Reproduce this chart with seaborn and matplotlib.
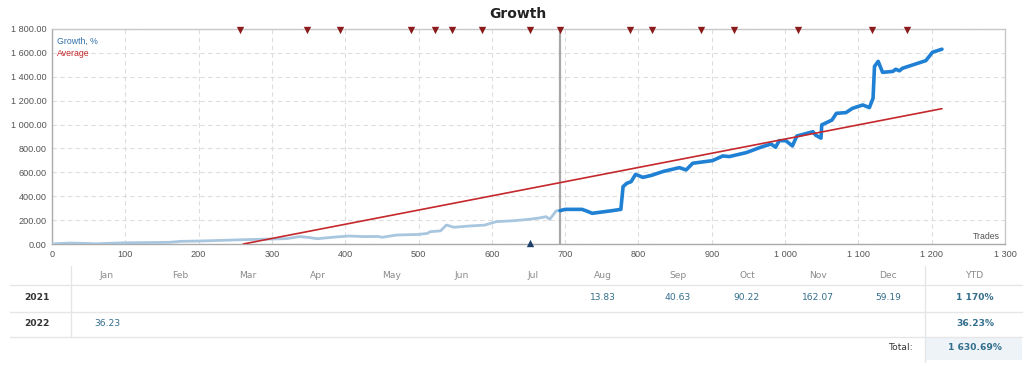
import matplotlib
matplotlib.use("Agg")
import matplotlib.pyplot as plt
from matplotlib.ticker import FuncFormatter, MultipleLocator
from matplotlib.lines import Line2D
from matplotlib.patches import Rectangle
import seaborn as sns
import pandas as pd

# ---------------- data ----------------
trades_light = [0, 10, 25, 45, 60, 80, 100, 130, 160, 175, 200, 230, 260, 290, 320, 338, 350, 362, 380, 405,
                425, 445, 450, 470, 500, 512, 516, 530, 538, 548, 570, 590, 606, 630, 651, 665, 674, 679, 688, 693]
growth_light = [0, 4, 8, 5, 2, 6, 10, 12, 14, 22, 25, 30, 36, 40, 45, 62, 55, 44, 55, 67,
                62, 63, 56, 75, 80, 89, 103, 110, 159, 140, 151, 158, 187, 195, 207, 218, 229, 207, 279, 279]

trades_dark = [693, 700, 723, 728, 737, 764, 776, 779, 784, 790, 796, 806, 818, 833, 852, 856, 865, 874, 901, 915,
               924, 947, 969, 981, 987, 992, 1001, 1010, 1016, 1038, 1042, 1049, 1050, 1064, 1070, 1083, 1092,
               1106, 1115, 1120, 1122, 1127, 1133, 1147, 1151, 1156, 1160, 1174, 1192, 1201, 1214]
growth_dark = [279, 290, 290, 279, 257, 279, 290, 480, 508, 522, 583, 558, 575, 606, 634, 639, 620, 676, 698, 737,
               732, 765, 815, 837, 810, 865, 865, 821, 904, 940, 910, 886, 997, 1038, 1094, 1100, 1136,
               1164, 1142, 1220, 1487, 1529, 1437, 1445, 1463, 1450, 1471, 1499, 1535, 1605, 1631]

average_trades = [261, 1214]
average_values = [0, 1133]

year_split_trade = 693
deposit_trades = [256, 348, 393, 490, 522, 545, 586, 652, 693, 788, 818, 885, 930, 1017, 1118, 1166]
withdraw_trades = [652]

months = ["Jan", "Feb", "Mar", "Apr", "May", "Jun", "Jul", "Aug", "Sep", "Oct", "Nov", "Dec"]
years = ["2021", "2022"]
monthly_2021 = [None, None, None, None, None, None, None, "13.83", "40.63", "90.22", "162.07", "59.19"]
monthly_2022 = ["36.23", None, None, None, None, None, None, None, None, None, None, None]
ytd = ["1 170%", "36.23%"]
total_label = "Total:"
total_value = "1 630.69%"

# ---------------- style ----------------
sns.set_theme(style="white")
plt.rcParams["font.family"] = ["Liberation Sans", "DejaVu Sans"]

W, H = 1024, 366
fig = plt.figure(figsize=(W / 100, H / 100), dpi=100)

# background axes in pixel coordinates for the table
bg = fig.add_axes([0, 0, 1, 1], zorder=0)
bg.set_xlim(0, W)
bg.set_ylim(H, 0)
bg.axis("off")

ax = fig.add_axes([52 / W, 1 - 244 / H, (1005 - 52) / W, (244 - 29) / H], zorder=2)
ax.patch.set_alpha(0)

light_blue = "#a9c6df"
dark_blue = "#1f80d4"
red = "#c4282c"
marker_red = "#8b1b1b"

df_light = pd.DataFrame({"trade": trades_light, "growth": growth_light})
df_dark = pd.DataFrame({"trade": trades_dark, "growth": growth_dark})
df_avg = pd.DataFrame({"trade": average_trades, "value": average_values})

sns.lineplot(data=df_light, x="trade", y="growth", ax=ax, color=light_blue, lw=2.0, estimator=None, zorder=3)
sns.lineplot(data=df_dark, x="trade", y="growth", ax=ax, color=dark_blue, lw=2.6, estimator=None, zorder=4)
sns.lineplot(data=df_avg, x="trade", y="value", ax=ax, color=red, lw=1.2, estimator=None, zorder=5)

ax.axvline(year_split_trade, color="#a8a8a8", lw=1.6, zorder=2)

ax.set_xlim(0, 1300)
ax.set_ylim(0, 1800)
ax.scatter(deposit_trades, [1790] * len(deposit_trades), marker="v", s=28, color=marker_red,
           clip_on=False, zorder=6, linewidths=0)
ax.scatter(withdraw_trades, [5] * len(withdraw_trades), marker="^", s=28, color="#1f3f6b",
           clip_on=False, zorder=6, linewidths=0)

ax.xaxis.set_major_locator(MultipleLocator(100))
ax.yaxis.set_major_locator(MultipleLocator(200))
ax.xaxis.set_major_formatter(FuncFormatter(lambda v, p: f"{v:,.0f}".replace(",", " ")))
ax.yaxis.set_major_formatter(FuncFormatter(lambda v, p: f"{v:,.2f}".replace(",", " ")))
ax.tick_params(axis="both", labelsize=6.6, colors="#555555", length=0, pad=4)
ax.grid(True, color="#dedede", ls=(0, (4, 3)), lw=0.8)
for s in ax.spines.values():
    s.set_color("#c8c8c8")
    s.set_linewidth(1.0)
ax.spines["left"].set_color("#aaaaaa")
ax.spines["bottom"].set_color("#aaaaaa")
ax.set_xlabel("")
ax.set_ylabel("")

ax.text(0.005, 0.945, "Growth, %", transform=ax.transAxes, color="#2f6fa8", fontsize=6.3, va="center")
ax.text(0.005, 0.885, "Average", transform=ax.transAxes, color="#c4282c", fontsize=6.3, va="center")
ax.text(0.995, 0.035, "Trades", transform=ax.transAxes, color="#555555", fontsize=6.3, ha="right", va="center")

fig.text(518 / W, 1 - 14 / H, "Growth", fontsize=10, fontweight="bold", ha="center", va="center",
         color="#222222", family=["DejaVu Sans"])

# ---------------- table ----------------
month_x = [107, 180, 248, 318, 392, 462, 533, 603, 678, 747, 818, 888]
ytd_x = 975
row_y = [298, 324]
header_y = 276
total_y = 348
grey = "#8a8a8a"
num_col = "#336e8c"
tf = ["DejaVu Sans"]

for m, x in zip(months, month_x):
    bg.text(x, header_y, m, ha="center", va="center", fontsize=6.6, color=grey, family=tf)
bg.text(ytd_x, header_y, "YTD", ha="center", va="center", fontsize=6.6, color=grey, family=tf)

for yi, (yr, vals) in enumerate(zip(years, [monthly_2021, monthly_2022])):
    y = row_y[yi]
    bg.text(37, y, yr, ha="center", va="center", fontsize=6.6, color="#333333", fontweight="bold", family=tf)
    for x, v in zip(month_x, vals):
        if v is not None:
            bg.text(x, y, v, ha="center", va="center", fontsize=6.6, color=num_col, family=tf)
    bg.text(ytd_x, y, ytd[yi], ha="center", va="center", fontsize=6.6, color=num_col, fontweight="bold",
            family=tf)

bg.add_patch(Rectangle((926, 338), 96, 22, color="#eef3f8", lw=0))
bg.text(914, total_y, total_label, ha="right", va="center", fontsize=6.6, color="#333333", family=tf)
bg.text(ytd_x, total_y, total_value, ha="center", va="center", fontsize=6.6, color=num_col, fontweight="bold",
        family=tf)

for y in [285, 312, 337]:
    bg.add_line(Line2D([10, 1022], [y, y], color="#e6e6e6", lw=1.0))
bg.add_line(Line2D([71, 71], [266, 337], color="#e6e6e6", lw=1.0))
bg.add_line(Line2D([925, 925], [266, 362], color="#e6e6e6", lw=1.0))

fig.savefig("out.png", dpi=100, facecolor="white")
